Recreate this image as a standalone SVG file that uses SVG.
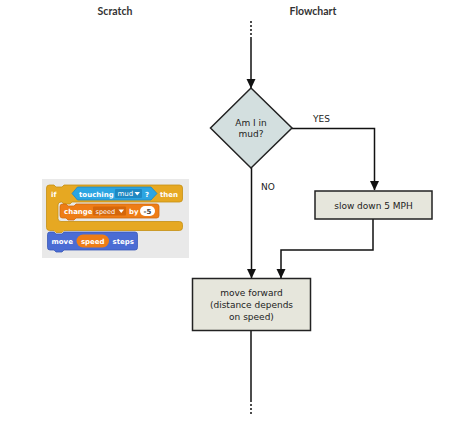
<svg xmlns="http://www.w3.org/2000/svg" width="474" height="436" viewBox="0 0 474 436">
<defs>
<marker id="ah" markerWidth="10" markerHeight="10" refX="9" refY="5" orient="auto" markerUnits="userSpaceOnUse">
<path d="M0,0.5 L9.5,5 L0,9.5 Z" fill="#111"/>
</marker>
</defs>
<style>
.title{font-family:Lato,"Liberation Sans",sans-serif;font-weight:bold;font-size:10.5px;fill:#333;text-anchor:middle}
.ft{font-family:"DejaVu Sans",sans-serif;font-size:9px;fill:#222;text-anchor:middle}
.lbl{font-family:"DejaVu Sans",sans-serif;font-size:9px;fill:#222}
.box{fill:#e6e6dc;stroke:#222;stroke-width:1.5}
.dia{fill:#d3dfdf;stroke:#222;stroke-width:1.5}
.ln{fill:none;stroke:#111;stroke-width:1.5}
.dot{fill:none;stroke:#111;stroke-width:1.5;stroke-dasharray:2,2}
.st{font-family:"DejaVu Sans",sans-serif;font-weight:bold;font-size:7px;fill:#fff}
</style>
<rect width="474" height="436" fill="#fff"/>
<text class="title" x="115" y="14.5">Scratch</text>
<text class="title" x="313" y="14.5">Flowchart</text>

<g id="scratch">
<rect x="42" y="179" width="147" height="79" fill="#e9e9e9"/>
<path d="M46.5,188 Q46.5,185 49.5,185 L54,185 l2,2 h6 l2,-2 L179.5,185 Q182.5,185 182.5,188 L182.5,199 Q182.5,202 179.5,202 L72,202 l-2,2 h-6 l-2,-2 L61,202 Q58,202 58,205 L58,218.5 Q58,221.5 61,221.5 L179.5,221.5 Q182.5,221.5 182.5,224.5 L182.5,227.5 Q182.5,230.5 179.5,230.5 L64,230.5 l-2,2 h-6 l-2,-2 L49.5,230.5 Q46.5,230.5 46.5,227.5 Z" fill="#e6a822" stroke="#c58f12" stroke-width="0.8"/>
<text class="st" x="51" y="196.5">if</text>
<path d="M72,193.5 L77.5,187 L151,187 L157,193.5 L151,200 L77.5,200 Z" fill="#2ca5e2" stroke="#1e88c0" stroke-width="0.8"/>
<text class="st" x="79" y="196.5">touching</text>
<rect x="115" y="189" width="27" height="9" rx="1" fill="#1f88c2"/>
<text class="st" x="117.5" y="196" style="font-weight:normal">mud</text>
<path d="M134.5,192 L140,192 L137.25,195.5 Z" fill="#fff"/>
<text class="st" x="145" y="196.5">?</text>
<text class="st" x="160" y="196.5">then</text>
<path d="M60,206.5 Q60,204 62.5,204 L66,204 l2,2 h6 l2,-2 L156.5,204 Q159,204 159,206.5 L159,215.5 Q159,218 156.5,218 L76,218 l-2,2 h-6 l-2,-2 L62.5,218 Q60,218 60,215.5 Z" fill="#ee7d16" stroke="#cf6a0e" stroke-width="0.8"/>
<text class="st" x="64" y="214">change</text>
<rect x="93" y="206.5" width="33" height="9" rx="1" fill="#d4660a"/>
<text class="st" x="95.5" y="213.5" style="font-weight:normal;font-size:6.5px">speed</text>
<path d="M118.5,209.5 L124,209.5 L121.25,213 Z" fill="#fff"/>
<text class="st" x="129" y="214">by</text>
<rect x="140" y="206" width="15" height="10" rx="5" fill="#fff"/>
<text class="st" x="147.5" y="213.8" style="fill:#444;text-anchor:middle">-5</text>
<path d="M47.5,234.5 Q47.5,232 50,232 L54,232 l2,2 h6 l2,-2 L135,232 Q137.5,232 137.5,234.5 L137.5,247.5 Q137.5,250 135,250 L64,250 l-2,2 h-6 l-2,-2 L50,250 Q47.5,250 47.5,247.5 Z" fill="#4a6cd4" stroke="#3a58b8" stroke-width="0.8"/>
<text class="st" x="51.5" y="243.5">move</text>
<rect x="76.5" y="234.5" width="32.5" height="13" rx="6.5" fill="#ee7d16"/>
<text class="st" x="92.75" y="243.5" style="text-anchor:middle">speed</text>
<text class="st" x="112.5" y="243.5">steps</text>
</g>

<g id="connectors">
<line class="dot" x1="251" y1="21" x2="251" y2="37"/>
<line class="ln" x1="251" y1="37" x2="251" y2="88" marker-end="url(#ah)"/>
<polyline class="ln" points="292,128.5 374.5,128.5 374.5,190" marker-end="url(#ah)"/>
<line class="ln" x1="251.5" y1="167.5" x2="251.5" y2="278" marker-end="url(#ah)"/>
<polyline class="ln" points="373,219 373,250 281,250 281,278" marker-end="url(#ah)"/>
<line class="ln" x1="251" y1="331" x2="251" y2="400"/>
<line class="dot" x1="251" y1="400" x2="251" y2="416"/>
<text class="lbl" x="313" y="122">YES</text>
<text class="lbl" x="261" y="190">NO</text>
</g>

<g id="decision">
<polygon class="dia" points="251,88 292,128 251,168 210.5,128"/>
<text class="ft" x="251" y="126">Am I in</text>
<text class="ft" x="251" y="137">mud?</text>
</g>

<g id="slow">
<rect class="box" x="315" y="191" width="117" height="28"/>
<text class="ft" x="373.5" y="208.5">slow down 5 MPH</text>
</g>

<g id="move">
<rect class="box" x="192.5" y="278.5" width="118" height="52"/>
<text class="ft" x="251.5" y="296">move forward</text>
<text class="ft" x="251.5" y="308">(distance depends</text>
<text class="ft" x="251.5" y="320">on speed)</text>
</g>
</svg>
